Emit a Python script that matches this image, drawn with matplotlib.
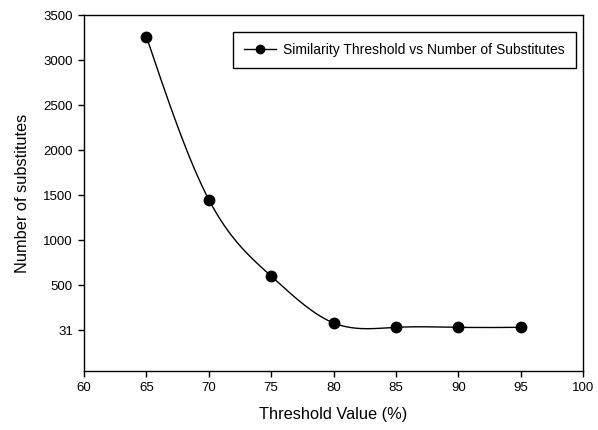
#!/usr/bin/env python3
import matplotlib.pyplot as plt
import numpy as np

plt.rcParams["font.family"] = ["Liberation Sans", "DejaVu Sans"]

# Data
threshold = [65, 70, 75, 80, 85, 90, 95]
substitutes = [3260, 1450, 600, 80, 31, 31, 31]

x_ticks = [60, 65, 70, 75, 80, 85, 90, 95, 100]
y_ticks = [0, 500, 1000, 1500, 2000, 2500, 3000, 3500]
y_tick_labels = ["31", "500", "1000", "1500", "2000", "2500", "3000", "3500"]


# Natural cubic spline, used only to draw the smooth connecting line
def natural_spline(x, y, xs):
    x = np.asarray(x, float)
    y = np.asarray(y, float)
    n = len(x)
    h = np.diff(x)
    A = np.zeros((n, n))
    r = np.zeros(n)
    A[0, 0] = A[-1, -1] = 1
    for i in range(1, n - 1):
        A[i, i - 1] = h[i - 1]
        A[i, i] = 2 * (h[i - 1] + h[i])
        A[i, i + 1] = h[i]
        r[i] = 6 * ((y[i + 1] - y[i]) / h[i] - (y[i] - y[i - 1]) / h[i - 1])
    m = np.linalg.solve(A, r)
    idx = np.clip(np.searchsorted(x, xs) - 1, 0, n - 2)
    x0, x1 = x[idx], x[idx + 1]
    hh = x1 - x0
    a = (x1 - xs) / hh
    b = (xs - x0) / hh
    return (a * y[idx] + b * y[idx + 1]
            + ((a ** 3 - a) * m[idx] + (b ** 3 - b) * m[idx + 1]) * hh ** 2 / 6)


fig = plt.figure(figsize=(5.98, 4.30), dpi=100)
ax = fig.add_axes([0.1405, 0.137, 0.8345, 0.828])

xs = np.linspace(threshold[0], threshold[-1], 400)
ax.plot(xs, natural_spline(threshold, substitutes, xs), color="black", linewidth=1)
ax.plot(threshold, substitutes, linestyle="none", marker="o", markersize=7.5,
        color="black")
# proxy artist for the legend (line + marker)
ax.plot([], [], color="black", linewidth=1, marker="o", markersize=6,
        label="Similarity Threshold vs Number of Substitutes")

ax.set_xlim(60, 100)
ax.set_ylim(-455, 3500)
ax.set_xticks(x_ticks)
ax.set_yticks(y_ticks)
ax.set_yticklabels(y_tick_labels)
ax.tick_params(direction="out", length=4.5, width=1, labelsize=9.5, pad=3.5)

for s in ax.spines.values():
    s.set_linewidth(1)

ax.set_xlabel("Threshold Value (%)", fontsize=11.8, labelpad=9)
ax.set_ylabel("Number of substitutes", fontsize=11.8)
ax.yaxis.set_label_coords(-0.108, 0.5)

leg = ax.legend(loc="upper right", fontsize=10, handlelength=2.3,
                handletextpad=0.5, fancybox=False, framealpha=1,
                borderpad=0.8, borderaxespad=0,
                bbox_to_anchor=(0.985, 0.952))
leg.get_frame().set_edgecolor("black")
leg.get_frame().set_linewidth(1)

plt.savefig("out.png", dpi=100)
